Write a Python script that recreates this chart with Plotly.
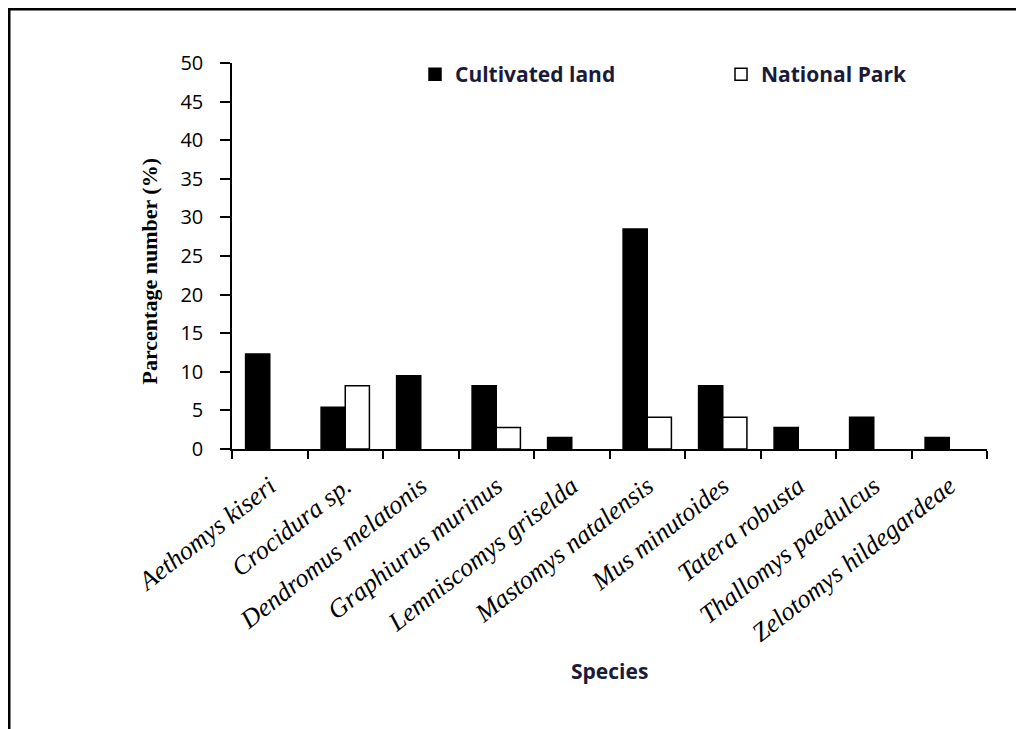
import plotly.graph_objects as go

species = ["Aethomys kiseri", "Crocidura sp.", "Dendromus melatonis", "Graphiurus murinus",
           "Lemniscomys griselda", "Mastomys natalensis", "Mus minutoides", "Tatera robusta",
           "Thallomys paedulcus", "Zelotomys hildegardeae"]
cultivated = [12.3, 5.4, 9.5, 8.2, 1.5, 28.5, 8.2, 2.8, 4.1, 1.5]
national_park = [0, 8.2, 0, 2.8, 0, 4.1, 4.1, 0, 0, 0]
y_ticks = [0, 5, 10, 15, 20, 25, 30, 35, 40, 45, 50]

OFF = 8  # default page body margin
W, H = 1024 - OFF, 729 - OFF
# plot area in page pixels
L, R, T, B = 232, 987, 63, 449

def px_x(p):
    return (p - L) / (R - L)

def px_y(p):
    return (B - p) / (B - T)

fig = go.Figure()
fig.add_trace(go.Bar(x=species, y=[v if v > 0 else None for v in cultivated], name="Cultivated land",
                     marker=dict(color="black", line=dict(color="black", width=1.5))))
fig.add_trace(go.Bar(x=species, y=[v if v > 0 else None for v in national_park], name="National Park",
                     marker=dict(color="white", line=dict(color="black", width=1.5))))

fig.update_layout(
    width=W, height=H,
    margin=dict(l=L - OFF, r=W - (R - OFF), t=T - OFF, b=H - (B - OFF), autoexpand=False),
    paper_bgcolor="white", plot_bgcolor="white",
    barmode="group", bargap=0.36, bargroupgap=0,
    showlegend=True,
    legend=dict(orientation="h", x=px_x(415), y=px_y(54), xanchor="left", yanchor="top",
                font=dict(family="Open Sans", size=21, color="#1a1a3a", weight="bold"),
                entrywidth=261, entrywidthmode="pixels", itemwidth=30,
                bgcolor="rgba(0,0,0,0)", traceorder="normal"),
    xaxis=dict(showline=True, linecolor="black", linewidth=1.5, ticks="outside",
               tickson="boundaries", ticklen=8, tickcolor="black", tickwidth=1.5,
               ticklabelstandoff=10,
               tickangle=-38, tickfont=dict(family="Liberation Serif", size=26, color="black",
                                            style="italic"),
               showgrid=False, zeroline=False),
    yaxis=dict(range=[0, 50], tickvals=y_ticks, showline=True, linecolor="black", linewidth=1.5,
               ticks="outside", ticklen=10, tickcolor="black", tickwidth=1.5,
               ticklabelstandoff=13,
               tickfont=dict(family="Open Sans", size=20, color="black"),
               showgrid=False, zeroline=False),
)

fig.add_annotation(text="<b>Parcentage number (%)</b>", textangle=-90,
                   x=px_x(134), y=px_y(272), xref="paper", yref="paper",
                   showarrow=False, font=dict(family="Liberation Serif", size=22, color="black"))
fig.add_annotation(text="<b>Species</b>", x=px_x(609), y=px_y(687), xref="paper", yref="paper",
                   showarrow=False, font=dict(family="Open Sans", size=21, color="#1a1a3a"))

# outer frame (top and left edges)
fig.add_shape(type="line", xref="paper", yref="paper", x0=px_x(8), x1=px_x(1040),
              y0=px_y(9), y1=px_y(9), line=dict(color="black", width=3))
fig.add_shape(type="line", xref="paper", yref="paper", x0=px_x(9), x1=px_x(9),
              y0=px_y(8), y1=px_y(740), line=dict(color="black", width=3))

fig.write_html("out.html")
